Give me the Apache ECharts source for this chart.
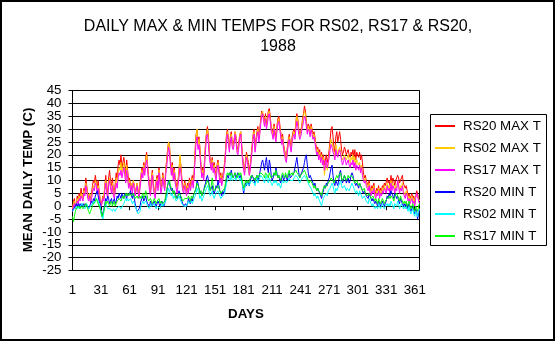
<!DOCTYPE html>
<html>
<head>
<meta charset="utf-8">
<script src="https://cdn.jsdelivr.net/npm/echarts@6/dist/echarts.min.js"></script>
<style>
  html, body { margin: 0; padding: 0; background: #fff; }
  #chart { width: 557px; height: 343px; }
</style>
</head>
<body>
<div id="chart"></div>
<script>
// Day numbers 1..366 (1988 is a leap year)
const days = Array.from({ length: 366 }, (_, i) => String(i + 1));

const seriesNames = ['RS20 MAX T', 'RS02 MAX T', 'RS17 MAX T', 'RS20 MIN T', 'RS02 MIN T', 'RS17 MIN T'];
const seriesColors = ['#FF0000', '#FFCC00', '#FF00FF', '#0000FF', '#00FFFF', '#00FF00'];

// Daily maximum temperatures (C)
const rs20Max = [
  -1, 2, 3, 0, 1, 4, 2, 5, 3, 7,  4, 3, 7, 6, 11, 8, 5, 3, 5, 2,
  5, 8, 10, 9, 12, 12, 7, 10, 6, 3,  1, 2, 4, 3, 8, 12, 7, 5, 11, 14,
  10, 8, 11, 6, 5, 9, 13, 10, 16, 18,  16, 20, 15, 17, 19, 16, 12, 18, 14, 10,
  11, 8, 9, 6, 10, 8, 5, 7, 9, 6,  4, 9, 12, 15, 13, 17, 14, 19, 21, 16,
  12, 8, 5, 11, 14, 9, 6, 4, 10, 12,  8, 15, 11, 6, 9, 13, 10, 7, 14, 18,
  22, 25, 24, 18, 14, 17, 12, 15, 11, 9,  7, 10, 14, 19, 16, 11, 8, 7, 10, 8,
  6, 9, 7, 11, 8, 10, 12, 9, 14, 22,  28, 30, 25, 27, 23, 17, 13, 15, 12, 19,
  25, 29, 31, 27, 21, 18, 16, 19, 15, 17,  14, 12, 16, 18, 15, 11, 13, 10, 12, 14,
  17, 22, 28, 30, 26, 23, 27, 29, 25, 24,  26, 29, 27, 23, 22, 25, 28, 29, 24, 19,
  16, 14, 18, 21, 19, 17, 14, 16, 20, 24,  28, 30, 23, 26, 29, 31, 27, 30, 34, 37,
  37, 35, 33, 36, 32, 34, 37, 38, 35, 31,  30, 28, 32, 29, 27, 31, 34, 35, 32, 29,
  26, 28, 24, 22, 20, 19, 23, 26, 28, 25,  23, 27, 29, 30, 28, 33, 36, 34, 30, 28,
  29, 31, 34, 36, 39, 37, 33, 30, 32, 31,  29, 32, 30, 28, 29, 27, 24, 22, 23, 20,
  22, 19, 21, 18, 20, 16, 18, 20, 17, 19,  22, 26, 30, 31, 27, 23, 21, 27, 29, 25,
  27, 29, 26, 22, 20, 21, 23, 22, 20, 21,  22, 20, 19, 21, 20, 22, 19, 22, 18, 21,
  20, 19, 21, 18, 20, 17, 13, 11, 12, 10,  9, 8, 10, 7, 6, 8, 7, 9, 6, 5,
  7, 6, 8, 5, 7, 6, 8, 7, 9, 8,  8, 11, 9, 10, 8, 12, 9, 11, 10, 8,
  10, 11, 12, 11, 9, 10, 11, 12, 9, 8,  7, 8, 6, 4, 5, 3, 4, 5, 3, 4,
  1, 4, 6, 5, 3, 2
];
const rs02Max = [
  -1, 1, 2, 0, 1, 3, 2, 4, 3, 5,  4, 3, 6, 5, 9, 7, 4, 3, 5, 2,
  4, 6, 8, 7, 10, 9, 6, 8, 5, 3,  0, 1, 3, 3, 7, 10, 6, 4, 9, 11,
  8, 6, 9, 5, 4, 7, 11, 9, 13, 15,  14, 17, 13, 15, 17, 14, 10, 16, 12, 8,
  10, 7, 9, 6, 10, 8, 5, 7, 9, 6,  4, 8, 11, 14, 12, 16, 13, 18, 20, 15,
  11, 7, 5, 10, 13, 8, 6, 4, 9, 11,  7, 14, 10, 6, 8, 12, 9, 7, 13, 17,
  21, 25, 23, 17, 13, 16, 11, 14, 10, 8,  6, 9, 13, 20, 15, 10, 7, 6, 9, 7,
  5, 8, 6, 10, 7, 9, 11, 8, 13, 21,  27, 30, 24, 26, 22, 16, 12, 14, 11, 18,
  24, 28, 30, 26, 20, 17, 15, 18, 14, 16,  13, 11, 15, 17, 14, 10, 12, 9, 11, 13,
  16, 21, 27, 29, 25, 22, 26, 28, 24, 23,  25, 29, 26, 22, 21, 24, 28, 29, 23, 18,
  15, 13, 17, 20, 18, 14, 12, 15, 19, 23,  27, 29, 22, 25, 28, 30, 26, 29, 33, 36,
  37, 34, 32, 35, 31, 33, 36, 37, 34, 30,  29, 27, 31, 28, 26, 30, 33, 34, 31, 28,
  25, 27, 23, 21, 19, 18, 22, 25, 27, 24,  22, 26, 28, 29, 27, 32, 35, 33, 29, 27,
  28, 30, 33, 35, 37, 36, 32, 29, 31, 30,  28, 31, 29, 27, 28, 26, 23, 21, 22, 19,
  21, 18, 20, 17, 19, 12, 15, 17, 14, 16,  20, 24, 26, 25, 23, 21, 19, 24, 22, 20,
  22, 23, 21, 19, 18, 19, 20, 19, 18, 19,  20, 18, 17, 19, 18, 20, 17, 19, 16, 18,
  17, 16, 17, 14, 16, 13, 11, 10, 11, 9,  8, 7, 9, 6, 5, 7, 6, 8, 5, 4,
  6, 5, 7, 4, 6, 5, 7, 6, 8, 7,  6, 9, 7, 8, 6, 10, 7, 9, 8, 6,
  8, 7, 10, 9, 6, 8, 7, 9, 6, 5,  4, 6, 5, 3, 4, 2, 3, 4, 2, 3,
  1, 4, 5, 4, 3, 2
];
const rs17Max = [
  -2, 0, 1, -1, 0, 2, 1, 3, 2, 4,  3, 2, 5, 4, 8, 6, 3, 2, 4, 1,
  3, 5, 7, 6, 9, 8, 5, 7, 4, 2,  0, 1, 3, 2, 6, 9, 5, 3, 8, 10,
  7, 5, 8, 4, 3, 6, 9, 7, 11, 13,  12, 14, 11, 13, 15, 12, 9, 14, 11, 7,
  9, 6, 8, 5, 9, 7, 4, 6, 8, 5,  3, 7, 10, 13, 11, 15, 12, 16, 18, 14,
  10, 6, 4, 9, 12, 7, 5, 3, 8, 10,  6, 13, 9, 5, 7, 11, 8, 6, 12, 15,
  19, 23, 21, 16, 12, 15, 10, 13, 9, 7,  5, 8, 11, 15, 13, 9, 6, 5, 8, 6,
  4, 7, 5, 9, 6, 8, 10, 7, 12, 18,  25, 27, 22, 24, 20, 15, 11, 13, 10, 16,
  22, 27, 28, 24, 19, 16, 14, 17, 13, 15,  12, 10, 14, 16, 13, 9, 11, 8, 10, 12,
  15, 20, 26, 28, 24, 21, 25, 27, 23, 22,  24, 28, 25, 21, 20, 23, 27, 28, 22, 17,
  14, 12, 16, 19, 17, 15, 12, 14, 18, 22,  26, 28, 21, 24, 27, 29, 25, 28, 32, 35,
  36, 33, 31, 34, 30, 32, 35, 36, 33, 29,  28, 26, 30, 27, 25, 29, 32, 33, 30, 27,
  24, 26, 22, 20, 18, 17, 21, 24, 26, 23,  21, 25, 27, 28, 26, 30, 33, 31, 28, 26,
  27, 29, 31, 33, 35, 34, 31, 28, 30, 29,  27, 30, 28, 26, 27, 25, 22, 20, 21, 18,
  20, 17, 19, 16, 18, 14, 16, 18, 15, 17,  19, 22, 24, 23, 21, 20, 18, 22, 20, 19,
  21, 22, 20, 18, 16, 17, 19, 18, 16, 17,  18, 16, 15, 17, 16, 18, 15, 17, 14, 16,
  15, 14, 16, 13, 15, 12, 10, 9, 10, 8,  7, 6, 8, 5, 4, 6, 5, 7, 4, 3,
  5, 4, 6, 3, 5, 4, 6, 5, 7, 6,  5, 8, 6, 7, 5, 9, 6, 8, 7, 5,
  7, 6, 10, 8, 5, 7, 6, 8, 5, 4,  3, 5, 4, 2, 3, 1, 2, 3, 1, 2,
  0, 3, 5, 4, 2, 1
];

// Daily minimum temperatures (C)
const rs20Min = [
  -2, -1, -1, 0, 1, 0, 1, 0, 1, 0,  1, 0, 1, 0, 1, 1, 0, -1, 0, 1,
  2, 1, 3, 2, 4, 5, 6, 4, 2, 1,  -2, -4, -4, -1, 1, 3, 2, 4, 3, 1,
  2, 3, 1, 2, 3, 1, 2, 4, 3, 5,  4, 3, 5, 4, 3, 5, 4, 3, 5, 4,
  5, 6, 4, 3, 5, 3, 1, -1, -2, -2,  -1, 0, 2, 3, 4, 2, 3, 4, 2, 1,
  1, 0, 2, 1, 0, 1, 2, 1, 0, 1,  2, 1, 0, 1, 2, 1, 0, 1, 3, 5,
  8, 10, 9, 7, 6, 7, 5, 6, 5, 4,  3, 4, 6, 5, 3, 2, 1, 0, 0, 1,
  0, 1, 3, 2, 1, 3, 2, 4, 5, 6,  7, 10, 9, 7, 5, 6, 4, 5, 6, 8,
  9, 11, 12, 10, 8, 6, 7, 8, 6, 5,  6, 8, 7, 10, 8, 6, 5, 4, 6, 5,
  6, 8, 10, 12, 11, 13, 12, 14, 12, 11,  12, 13, 11, 12, 13, 12, 11, 12, 10, 8,
  5, 7, 9, 8, 10, 9, 8, 10, 11, 12,  11, 10, 9, 11, 12, 10, 11, 13, 15, 17,
  18, 16, 14, 17, 19, 15, 13, 18, 16, 12,  10, 11, 13, 12, 15, 13, 11, 12, 10, 9,
  11, 12, 10, 10, 12, 11, 10, 12, 13, 11,  11, 12, 12, 13, 15, 17, 19, 16, 13, 11,
  12, 13, 13, 15, 17, 19, 20, 16, 13, 11,  12, 11, 10, 9, 8, 9, 7, 6, 7, 6,
  5, 4, 3, 5, 6, 8, 7, 9, 8, 10,  11, 13, 15, 16, 12, 9, 8, 10, 9, 8,
  10, 13, 14, 11, 9, 10, 12, 11, 9, 10,  11, 9, 10, 12, 13, 12, 10, 9, 8, 9,
  8, 7, 9, 8, 7, 6, 5, 6, 5, 4,  4, 3, 5, 4, 3, 2, 3, 2, 1, 2,
  1, 0, 2, 1, 0, 1, 2, 1, 0, 1,  2, 4, 3, 5, 4, 6, 5, 4, 3, 5,
  4, 3, 4, 2, 1, 3, 2, 1, 0, 1,  0, 1, -1, 0, 1, -1, -2, -1, 0, -2,
  -3, -1, -2, -5, -3, -1
];
const rs02Min = [
  -2, -2, -1, -1, 0, -1, 0, -1, 0, 0,  1, 0, 0, -1, 0, 1, 0, -1, -1, 0,
  0, 1, 2, 1, 2, 3, 3, 2, 1, 0,  -3, -4, -5, -2, 0, 1, 0, -1, -1, -1,
  -1, -1, -2, -1, -1, -2, -1, -1, -1, 0,  0, -1, -1, -1, 1, 2, 3, 2, 3, 2,
  2, 3, 2, 1, 2, 1, 0, -1, -2, -3,  -3, -2, 0, 1, 2, 1, 1, 2, 1, 0,
  0, -1, 1, 0, 0, 0, 1, 0, -1, 0,  0, 0, -1, 0, 1, 0, 0, 0, 2, 3,
  5, 7, 6, 5, 4, 5, 3, 4, 3, 2,  2, 3, 4, 3, 2, 1, 1, 0, 0, 0,
  0, 1, 2, 1, 1, 2, 1, 2, 3, 4,  5, 7, 6, 5, 3, 4, 2, 3, 4, 5,
  6, 7, 8, 7, 5, 4, 5, 6, 4, 3,  4, 5, 5, 6, 5, 4, 3, 3, 4, 4,
  5, 7, 9, 10, 10, 11, 10, 12, 10, 10,  10, 11, 10, 11, 12, 11, 10, 11, 9, 8,
  6, 7, 8, 8, 9, 8, 8, 9, 10, 10,  10, 9, 8, 10, 11, 9, 10, 11, 12, 12,
  11, 10, 9, 11, 12, 10, 9, 11, 10, 9,  8, 9, 10, 9, 10, 9, 8, 9, 8, 7,
  9, 10, 9, 9, 10, 9, 9, 10, 11, 10,  10, 10, 10, 11, 11, 12, 12, 11, 10, 9,
  10, 10, 11, 11, 12, 12, 12, 10, 9, 8,  8, 7, 6, 5, 4, 5, 4, 3, 4, 3,
  2, 1, 0, 2, 3, 4, 4, 5, 4, 6,  6, 7, 8, 9, 8, 6, 5, 7, 6, 6,
  8, 9, 10, 8, 7, 7, 8, 8, 6, 7,  7, 6, 7, 8, 9, 8, 7, 6, 5, 6,
  5, 4, 6, 5, 4, 3, 3, 4, 3, 2,  2, 1, 3, 2, 1, 0, 1, 0, -1, 0,
  0, -1, 1, 0, -1, 0, 1, 0, -1, 0,  0, 1, 0, 1, 0, 2, 1, 0, -1, 1,
  1, 0, 2, 1, -1, 0, 1, 0, -1, 0,  -1, 0, -1, -2, 0, -2, -3, -2, -1, -3,
  -4, -2, -3, -4, -2, -1
];
const rs17Min = [
  -4, -6, -4, -2, -1, -1, 0, 0, -1, 0,  0, -1, 0, 0, 1, 0, -1, -2, -3, -2,
  -1, 0, 1, 1, 2, 3, 2, 2, 0, -1,  -2, -4, -4, -2, 0, 2, 1, 2, 1, 0,
  1, 2, 0, 1, 2, 0, 1, 2, 2, 3,  3, 2, 3, 4, 3, 4, 5, 4, 5, 4,
  5, 5, 4, 4, 5, 4, 3, 3, 4, 3,  3, 4, 3, 4, 5, 3, 4, 6, 5, 3,
  2, 2, 3, 2, 1, 2, 3, 2, 1, 2,  2, 3, 1, 2, 2, 1, 1, 2, 4, 6,
  8, 9, 10, 8, 7, 6, 5, 6, 4, 3,  3, 4, 5, 5, 4, 3, 2, 2, 3, 3,
  3, 3, 4, 3, 2, 4, 3, 4, 5, 6,  7, 9, 8, 7, 5, 6, 4, 5, 6, 7,
  8, 9, 10, 9, 7, 6, 8, 11, 8, 6,  6, 7, 7, 8, 7, 6, 5, 5, 6, 6,
  7, 9, 12, 13, 12, 13, 12, 13, 12, 11,  12, 13, 12, 11, 12, 13, 12, 13, 11, 9,
  7, 8, 10, 9, 10, 9, 10, 11, 12, 12,  12, 11, 10, 11, 12, 11, 12, 12, 13, 13,
  13, 12, 11, 13, 13, 12, 11, 13, 12, 11,  11, 12, 13, 12, 14, 12, 11, 12, 11, 10,
  12, 13, 12, 11, 13, 12, 11, 13, 14, 12,  12, 13, 12, 13, 13, 14, 13, 13, 12, 11,
  12, 12, 13, 13, 14, 13, 12, 11, 10, 9,  10, 10, 9, 8, 7, 8, 7, 6, 7, 6,
  6, 5, 4, 6, 7, 8, 7, 8, 8, 9,  9, 10, 11, 11, 10, 9, 9, 11, 12, 11,
  12, 12, 13, 11, 10, 11, 12, 12, 10, 11,  12, 11, 11, 12, 12, 11, 10, 9, 9, 10,
  9, 8, 9, 8, 7, 6, 6, 7, 5, 5,  4, 4, 5, 4, 3, 3, 4, 3, 2, 3,
  2, 1, 3, 2, 1, 2, 3, 2, 1, 2,  2, 3, 3, 4, 3, 4, 4, 3, 2, 4,
  4, 5, 5, 3, 2, 4, 3, 2, 1, 2,  1, 2, 0, 1, 2, 0, -1, 0, 1, -1,
  -2, 0, -1, -2, 0, 1
];

const seriesValues = [rs20Max, rs02Max, rs17Max, rs20Min, rs02Min, rs17Min];

const FONT = '"Liberation Sans", Arial, sans-serif';
const chart = echarts.init(document.getElementById('chart'), null, { renderer: 'canvas' });

chart.setOption({
  animation: false,
  backgroundColor: '#ffffff',
  textStyle: { fontFamily: FONT, color: '#000' },
  title: {
    text: 'DAILY MAX & MIN TEMPS FOR RS02, RS17 & RS20,\n1988',
    left: 278,
    top: 17,
    padding: 0,
    textAlign: 'center',
    textStyle: { fontFamily: FONT, fontSize: 16, fontWeight: 'normal', color: '#000', lineHeight: 20 }
  },
  grid: {
    show: true,
    left: 72.5,
    top: 90.5,
    width: 347,
    height: 180,
    borderColor: '#000',
    borderWidth: 1,
    backgroundColor: '#fff'
  },
  xAxis: {
    type: 'category',
    data: days,
    boundaryGap: false,
    axisLine: { lineStyle: { color: '#000', width: 1 } },
    axisTick: { interval: 29, length: 4, lineStyle: { color: '#000' } },
    axisLabel: { interval: 29, margin: 13, fontFamily: FONT, fontSize: 13.33, color: '#000' },
    splitLine: { show: false }
  },
  yAxis: {
    type: 'value',
    min: -25,
    max: 45,
    interval: 5,
    axisLine: { show: true, lineStyle: { color: '#000', width: 1 } },
    axisTick: { show: true, length: 4, lineStyle: { color: '#000' } },
    axisLabel: { margin: 11, fontFamily: FONT, fontSize: 13.33, color: '#000' },
    splitLine: { show: true, lineStyle: { color: '#000', width: 1 } }
  },
  legend: {
    orient: 'vertical',
    left: 435,
    top: 119,
    padding: 0,
    itemWidth: 20,
    itemHeight: 2,
    itemGap: 8,
    icon: 'rect',
    z: 10,
    data: seriesNames,
    textStyle: { fontFamily: FONT, fontSize: 13.33, color: '#000', lineHeight: 14, padding: [0, 0, 0, 3] }
  },
  graphic: [
    {
      type: 'rect',
      z: 1,
      shape: { x: 430.5, y: 114.5, width: 116, height: 131 },
      style: { fill: 'none', stroke: '#000', lineWidth: 1 }
    },
    {
      type: 'rect',
      z: 1,
      shape: { x: 1, y: 1, width: 553, height: 339 },
      style: { fill: 'none', stroke: '#000', lineWidth: 2 }
    },
    {
      type: 'text',
      z: 5,
      x: 28,
      y: 180,
      rotation: Math.PI / 2,
      style: {
        text: 'MEAN DAILY TEMP (C)',
        fontFamily: FONT, fontSize: 13.33, fontWeight: 'bold', fill: '#000',
        textAlign: 'center', textVerticalAlign: 'middle'
      }
    },
    {
      type: 'text',
      z: 5,
      x: 246,
      y: 314,
      style: {
        text: 'DAYS',
        fontFamily: FONT, fontSize: 13.33, fontWeight: 'bold', fill: '#000',
        textAlign: 'center', textVerticalAlign: 'middle'
      }
    }
  ],
  series: seriesNames.map((name, i) => ({
    name: name,
    type: 'line',
    data: seriesValues[i],
    color: seriesColors[i],
    showSymbol: false,
    symbol: 'none',
    lineStyle: { width: 1, color: seriesColors[i] },
    emphasis: { disabled: true }
  }))
});
</script>
</body>
</html>
